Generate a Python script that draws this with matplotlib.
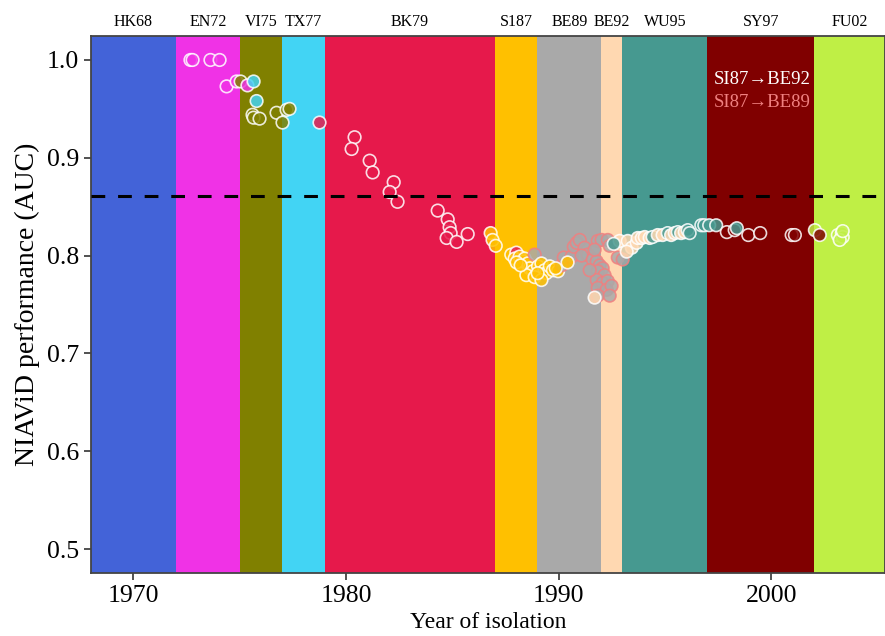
import matplotlib
matplotlib.use("Agg")
import matplotlib.pyplot as plt
from matplotlib.transforms import blended_transform_factory

plt.rcParams['font.family'] = ['Liberation Serif', 'DejaVu Serif']

# ---- clusters (antigenic bands) ----
cluster_names = ["HK68", "EN72", "VI75", "TX77", "BK79", "S187", "BE89", "BE92", "WU95", "SY97", "FU02"]
cluster_keys = ["HK68", "EN72", "VI75", "TX77", "BK79", "SI87", "BE89", "BE92", "WU95", "SY97", "FU02"]
cluster_start = [1968, 1972, 1975, 1977, 1979, 1987, 1989, 1992, 1993, 1997, 2002]
cluster_end = [1972, 1975, 1977, 1979, 1987, 1989, 1992, 1993, 1997, 2002, 2005.35]
cluster_colors = ["#4363d8", "#f032e6", "#808000", "#42d4f4", "#e6194b", "#ffc000",
                  "#a9a9a9", "#ffd8b1", "#469990", "#800000", "#bfef45"]

threshold = 0.861

# ---- points ----
years = [1972.68, 1972.78, 1973.62, 1974.05, 1974.38, 1974.85, 1975.04, 1975.36, 1975.65, 1975.79,
         1975.60, 1975.65, 1975.93, 1976.73, 1977.20, 1977.34, 1977.01, 1978.75,
         1980.40, 1980.26, 1981.11, 1981.25, 1982.24, 1982.05, 1982.42, 1984.31, 1984.78, 1984.87,
         1984.92, 1984.73, 1985.20, 1985.72,
         1986.80, 1986.89, 1987.04,
         1987.77, 1988.01, 1987.93, 1988.16, 1988.32, 1988.40, 1988.55, 1988.64, 1988.79, 1988.87,
         1989.03, 1989.19, 1989.34, 1989.42, 1989.58, 1989.73, 1989.97, 1988.48, 1988.87, 1989.19,
         1989.01, 1988.02, 1988.21,
         1990.14, 1990.24, 1990.61, 1990.71, 1990.85, 1990.99, 1991.22, 1991.36, 1991.08, 1991.60,
         1991.79, 1991.84, 1992.02, 1992.31, 1992.40, 1991.93, 1992.07, 1991.84, 1992.16, 1991.79,
         1992.07, 1992.31, 1991.84, 1992.26, 1992.49, 1991.84, 1992.40, 1991.69, 1992.78, 1993.01,
         1991.46, 1991.69, 1990.42, 1989.86,
         1992.87, 1993.25, 1993.44, 1993.67, 1993.20, 1992.59,
         1993.72, 1993.91, 1994.05, 1994.28, 1994.42, 1994.66, 1994.89, 1995.13, 1995.29, 1995.46,
         1995.60, 1995.76, 1995.93, 1996.07, 1996.16, 1996.71, 1996.85, 1997.08, 1997.41,
         1997.91, 1998.28, 1998.38, 1998.92, 1999.48, 2000.96, 2001.11, 2002.05, 2002.28,
         2003.13, 2003.32, 2003.36, 2003.22, 2003.36]
aucs = [1.000, 1.000, 1.000, 1.000, 0.973, 0.978, 0.978, 0.974, 0.978, 0.958,
        0.944, 0.941, 0.940, 0.946, 0.949, 0.950, 0.936, 0.936,
        0.921, 0.909, 0.897, 0.885, 0.875, 0.865, 0.855, 0.846, 0.837, 0.829,
        0.823, 0.818, 0.814, 0.822,
        0.823, 0.816, 0.810,
        0.801, 0.803, 0.797, 0.799, 0.794, 0.797, 0.792, 0.787, 0.784, 0.801,
        0.789, 0.792, 0.785, 0.782, 0.789, 0.785, 0.784, 0.780, 0.778, 0.775,
        0.782, 0.793, 0.790,
        0.790, 0.798, 0.799, 0.809, 0.813, 0.816, 0.808, 0.801, 0.800, 0.796,
        0.794, 0.815, 0.816, 0.816, 0.810, 0.790, 0.787, 0.784, 0.780, 0.775,
        0.772, 0.774, 0.767, 0.765, 0.769, 0.759, 0.759, 0.757, 0.798, 0.796,
        0.785, 0.806, 0.793, 0.787,
        0.815, 0.815, 0.808, 0.813, 0.804, 0.812,
        0.818, 0.818, 0.819, 0.818, 0.819, 0.821, 0.821, 0.823, 0.821, 0.823,
        0.824, 0.823, 0.824, 0.826, 0.823, 0.831, 0.831, 0.831, 0.831,
        0.824, 0.826, 0.828, 0.821, 0.823, 0.821, 0.821, 0.826, 0.821,
        0.821, 0.823, 0.819, 0.816, 0.825]
fill_cluster = (["EN72"] * 6 + ["VI75", "EN72", "TX77", "TX77"] + ["VI75"] * 7 + ["BK79"]
                + ["BK79"] * 14
                + ["SI87"] * 3
                + ["SI87", "BK79"] + ["SI87"] * 7 + ["BE89"] + ["SI87"] * 13
                + ["BE89"] * 27 + ["BE92"] + ["BE89"] * 4 + ["SI87", "SI87"]
                + ["BE92"] * 5 + ["WU95"]
                + ["BE92"] * 4 + ["WU95"] + ["BE92", "BE92", "WU95", "BE92", "BE92", "WU95", "BE92", "BE92",
                                             "WU95", "WU95"] + ["WU95"] * 4
                + ["SY97", "SY97", "WU95", "SY97", "SY97", "SY97", "SY97", "FU02", "SY97"]
                + ["FU02"] * 5)
edge_group = (["W"] * 35
              + ["W"] * 9 + ["C"] + ["W"] * 13
              + ["C"] * 27 + ["W"] + ["C"] * 4 + ["W", "W"]
              + ["W"] * 6
              + ["W"] * 19
              + ["W"] * 9
              + ["W"] * 5)

edge_colors = {"W": "white", "C": "#f08080"}
label_texts = ["SI87\u2192BE92", "SI87\u2192BE89"]
label_colors = ["white", "#f08080"]

color_map = dict(zip(cluster_keys, cluster_colors))

fig = plt.figure(figsize=(8.85, 6.36), dpi=100)
ax = fig.add_axes([0.1028, 0.0991, 0.8972, 0.8443])

for s, e, c in zip(cluster_start, cluster_end, cluster_colors):
    ax.axvspan(s, e, color=c, lw=0, zorder=0)

trans = blended_transform_factory(ax.transData, ax.transAxes)
for name, s, e in zip(cluster_names, cluster_start, cluster_end):
    ax.text((s + e) / 2, 1.012, name, transform=trans, ha="center", va="bottom", fontsize=11.5)

ax.scatter(years, aucs, s=82,
           c=[color_map[k] for k in fill_cluster],
           edgecolors=[edge_colors[g] for g in edge_group],
           linewidths=1.2, alpha=0.85, zorder=3)

ax.axhline(threshold, color="black", lw=2.2, dashes=(4.5, 4.2), zorder=4)

ax.text(1999.55, 0.980, label_texts[0], color=label_colors[0], ha="center", va="center", fontsize=13.5)
ax.text(1999.55, 0.957, label_texts[1], color=label_colors[1], ha="center", va="center", fontsize=13.5)

ax.set_xlim(1968, 2005.35)
ax.set_ylim(0.4755, 1.0245)
ax.set_xticks([1970, 1980, 1990, 2000])
ax.set_yticks([0.5, 0.6, 0.7, 0.8, 0.9, 1.0])
ax.set_yticklabels(["0.5", "0.6", "0.7", "0.8", "0.9", "1.0"])
ax.tick_params(axis="both", labelsize=18.5, direction="out", length=5, width=1.2, color="#333333")
for sp in ax.spines.values():
    sp.set_color("#444444")
    sp.set_linewidth(1.3)
ax.set_xlabel("Year of isolation", fontsize=17, labelpad=4)
ax.set_ylabel("NIAViD performance (AUC)", fontsize=20, labelpad=5)

fig.savefig("out.png", dpi=100)
